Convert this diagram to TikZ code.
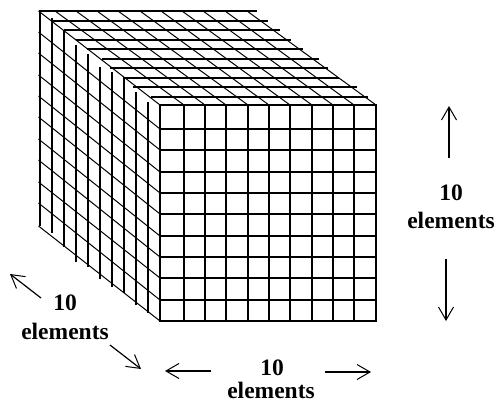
\documentclass[tikz,border=0pt]{standalone}
\usepackage{fontspec}
\setmainfont{Liberation Serif}
\usetikzlibrary{arrows.meta}
\tikzset{
    gridline/.style={line width=2pt, line cap=rect},
    diagline/.style={line width=1pt},
    sizearrow/.style={-{Straight Barb[length=13pt,width=15pt,line width=1pt]}, line width=1.2pt},
    sizelabel/.style={anchor=base, inner sep=0pt, font=\fontsize{23.5}{26}\selectfont\bfseries}
}

\begin{document}
\begin{tikzpicture}[x=1pt, y=-1pt]
    \useasboundingbox (0, 0) rectangle (497, 404);

    % Receding lines on the left side
    \foreach \ya/\yb in {11/105, 32/129, 53/150, 75/172, 96/193, 117/214, 139/236, 160/257, 182/278, 203/300, 226/321} {
        \draw[diagline] (38.5, \ya) -- (160, \yb);
    }

    % Receding lines on the top
    \foreach \xa/\xb in {55/184, 76/205, 97/226, 118/248, 140/269, 161/290, 182/312, 203/333, 225/354, 247/376} {
        \draw[diagline] (\xa, 11) -- (\xb, 105);
    }

    % Slices seen from above
    \foreach \y/\xa/\xb in {11.5/39/257, 20.7/52/268, 30.3/64/280, 39.7/76/291, 49.3/87/303, 58.7/102/319, 67.7/110/328, 77.7/123/339, 87.3/133/357, 96.7/151/368} {
        \draw[gridline, line cap=butt] (\xa, \y) -- (\xb, \y);
    }

    % Slices seen from the side
    \foreach \x/\ya/\yb in {40/11/226, 52/18/233, 64/31/247, 76/45/262, 88/54/267, 100/67/279, 112/72/287, 124/79/293, 136/92/305, 148/102/313} {
        \draw[gridline, line cap=butt] (\x, \ya) -- (\x, \yb);
    }

    % Front face
    \foreach \x in {160, 184, 205, 226, 248, 269, 290, 312, 333, 354, 376} {
        \draw[gridline] (\x, 105) -- (\x, 321);
    }
    \foreach \y in {105, 129, 150, 172, 193, 214, 236, 257, 278, 300, 321} {
        \draw[gridline] (160, \y) -- (376, \y);
    }

    % Depth label
    \node[sizelabel] (depthnum) at (65, 310) {10};
    \node[sizelabel] (depthtxt) at (65, 339) {elements};
    \coordinate (depthtipa) at (10, 274);
    \coordinate (depthenda) at (41, 298);
    \coordinate (depthendb) at (110, 345);
    \coordinate (depthtipb) at (141, 369);
    \draw[sizearrow] (depthenda) -- (depthtipa);
    \draw[sizearrow] (depthendb) -- (depthtipb);

    % Width label
    \node[sizelabel] (widthnum) at (272, 375) {10};
    \node[sizelabel] (widthtxt) at (271, 398.5) {elements};
    \coordinate (widthtipa) at (165, 371);
    \coordinate (widthenda) at (211, 371);
    \coordinate (widthendb) at (325, 372);
    \coordinate (widthtipb) at (371, 372);
    \draw[sizearrow] (widthenda) -- (widthtipa);
    \draw[sizearrow] (widthendb) -- (widthtipb);

    % Height label
    \node[sizelabel] (heightnum) at (451, 200) {10};
    \node[sizelabel] (heighttxt) at (451, 228) {elements};
    \coordinate (heighttipa) at (449, 106);
    \coordinate (heightenda) at (449, 158);
    \coordinate (heightendb) at (446, 259);
    \coordinate (heighttipb) at (446, 321);
    \draw[sizearrow] (heightenda) -- (heighttipa);
    \draw[sizearrow] (heightendb) -- (heighttipb);
\end{tikzpicture}
\end{document}
